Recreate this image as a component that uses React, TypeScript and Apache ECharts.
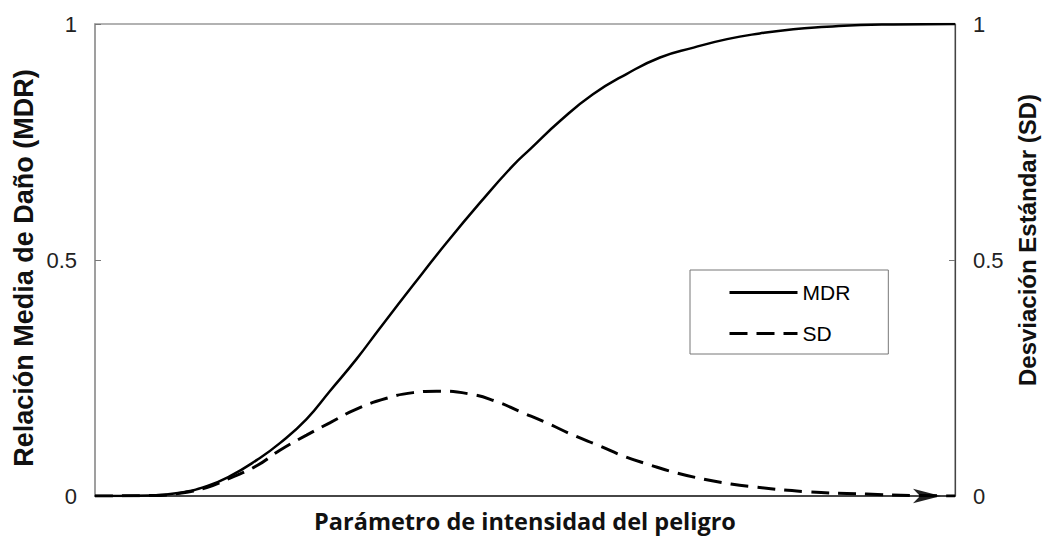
import React, { useEffect, useRef } from "react";
import * as echarts from "echarts";

// Hazard intensity parameter (relative scale 0..100, no tick labels in the original)
const mdrX = [0, 2.9, 6.4, 9.9, 13.0, 15.7, 18.8, 21.5, 24.6, 27.3, 30.4, 33.1, 37.0, 40.9, 44.8, 48.6, 50.6, 54.1, 57.9, 61.8, 65.7, 69.6, 73.5, 77.3, 81.2, 85.1, 89.0, 92.8, 100];
const mdrY = [0, 0, 0.001, 0.007, 0.021, 0.042, 0.076, 0.112, 0.163, 0.222, 0.29, 0.355, 0.447, 0.537, 0.622, 0.70, 0.735, 0.795, 0.851, 0.894, 0.929, 0.95, 0.968, 0.98, 0.989, 0.994, 0.998, 0.999, 1];

const sdX = [0, 6.4, 9.9, 13.0, 15.7, 18.8, 21.5, 24.6, 27.3, 30.4, 33.9, 37.0, 39.7, 43.6, 46.7, 49.4, 52.5, 55.6, 58.7, 61.4, 64.5, 67.6, 70.7, 73.4, 76.2, 82.8, 89.7, 95.5, 100];
const sdY = [0, 0.001, 0.006, 0.018, 0.038, 0.064, 0.097, 0.129, 0.155, 0.184, 0.207, 0.219, 0.222, 0.216, 0.2, 0.179, 0.155, 0.129, 0.106, 0.085, 0.066, 0.049, 0.036, 0.027, 0.02, 0.009, 0.004, 0.001, 0];

const seriesNames = ["MDR", "SD"];
const xTitle = "Parámetro de intensidad del peligro";
const leftTitle = "Relación Media de Daño (MDR)";
const rightTitle = "Desviación Estándar (SD)";

export default function App() {
  const ref = useRef<HTMLDivElement>(null);
  useEffect(() => {
    if (!ref.current) return;
    const chart = echarts.init(ref.current, undefined, { renderer: "svg" });
    const yAxisBase = {
      type: "value",
      min: 0,
      max: 1,
      interval: 0.5,
      splitLine: { show: false },
      axisTick: { show: true, inside: true, length: 6, lineStyle: { color: "#777", width: 1 } },
      axisLabel: { fontFamily: "Liberation Sans, Arial", fontSize: 22, color: "#222", margin: 18 },
    };
    chart.setOption({
      animation: false,
      backgroundColor: "#fff",
      grid: { left: 95, right: 96, top: 24, bottom: 44, show: true, borderColor: "#999", borderWidth: 1.5 },
      legend: {
        orient: "vertical",
        left: 690,
        top: 270,
        data: seriesNames,
        itemWidth: 68,
        itemHeight: 14,
        itemGap: 20,
        padding: [12, 38, 10, 38],
        borderColor: "#777",
        borderWidth: 1,
        backgroundColor: "#fff",
        itemStyle: { opacity: 0 },
        lineStyle: { width: 3 },
        textStyle: { fontFamily: "Liberation Sans, Arial", fontSize: 21, color: "#000" },
      },
      xAxis: {
        type: "value",
        min: 0,
        max: 100,
        name: xTitle,
        nameLocation: "middle",
        nameGap: 13,
        nameTextStyle: { fontFamily: "Open Sans", fontWeight: "bold", fontSize: 23.5, color: "#111" },
        axisLine: {
          show: true,
          lineStyle: { color: "#222", width: 1.5 },
          symbol: ["none", "arrow"],
          symbolSize: [11, 28],
          symbolOffset: [0, -14],
        },
        axisTick: { show: false },
        axisLabel: { show: false },
        splitLine: { show: false },
      },
      yAxis: [
        { ...yAxisBase, position: "left", axisLine: { show: true, lineStyle: { color: "#999", width: 1.5 } } },
        { ...yAxisBase, position: "right", axisLine: { show: true, lineStyle: { color: "#444", width: 1.2 } } },
      ],
      series: [
        {
          name: seriesNames[0],
          type: "line",
          yAxisIndex: 0,
          data: mdrX.map((x, i) => [x, mdrY[i]]),
          symbol: "none",
          smooth: 0.5,
          lineStyle: { color: "#000", width: 2.5 },
          itemStyle: { color: "#000" },
          z: 3,
        },
        {
          name: seriesNames[1],
          type: "line",
          yAxisIndex: 1,
          data: sdX.map((x, i) => [x, sdY[i]]),
          symbol: "none",
          smooth: 0.5,
          lineStyle: { color: "#000", width: 3, type: [18, 9] },
          itemStyle: { color: "#000" },
          z: 3,
        },
      ],
      graphic: [
        {
          type: "text",
          x: 24,
          y: 268,
          rotation: Math.PI / 2,
          style: {
            text: leftTitle,
            font: "bold 27px 'Liberation Sans', Arial",
            fill: "#111",
            textAlign: "center",
            textVerticalAlign: "middle",
          },
        },
        {
          type: "text",
          x: 1027,
          y: 240,
          rotation: Math.PI / 2,
          style: {
            text: rightTitle,
            font: "bold 24px 'Liberation Sans', Arial",
            fill: "#111",
            textAlign: "center",
            textVerticalAlign: "middle",
          },
        },
      ],
    });
    return () => chart.dispose();
  }, []);
  return <div ref={ref} style={{ position: "absolute", left: 0, top: 0, width: 1051, height: 540 }} />;
}
